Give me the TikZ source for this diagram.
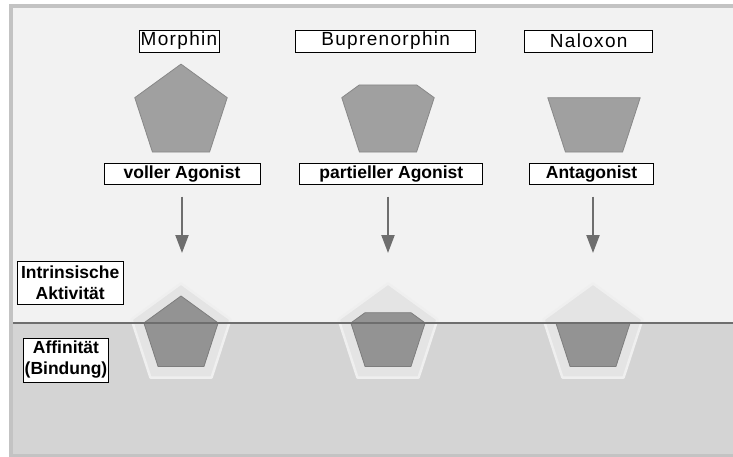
\documentclass[tikz,border=0pt]{standalone}
\usepackage{fontspec}
\setmainfont{Liberation Sans}
\newfontfamily\drugfont[LetterSpace=7]{Liberation Sans}
\usetikzlibrary{arrows.meta,positioning,calc}
\definecolor{bgtop}{HTML}{F2F2F2}
\definecolor{bgbot}{HTML}{D4D4D4}
\definecolor{framegray}{HTML}{C3C3C3}
\definecolor{piecegray}{HTML}{A0A0A0}
\definecolor{boundgray}{HTML}{939393}
\definecolor{pocketgray}{HTML}{E4E4E4}
\definecolor{linegray}{HTML}{6E6E6E}
\tikzset{
    drug/.style={
        draw,
        line width=0.8pt,
        fill=white,
        inner sep=0pt,
        minimum height=22pt,
        font=\drugfont\fontsize{19}{21}\selectfont
    },
    kind/.style={
        draw,
        line width=0.8pt,
        fill=white,
        inner sep=0pt,
        minimum height=21pt,
        font=\fontsize{17.5}{20}\selectfont\bfseries
    },
    side/.style={
        draw,
        line width=0.8pt,
        fill=white,
        inner sep=0pt,
        align=center,
        font=\fontsize{17.5}{21}\selectfont\bfseries
    },
    arrow/.style={
        -{Triangle[length=18pt,width=13pt]},
        line width=2.2pt,
        draw=linegray
    },
    piece/.style={fill=piecegray, draw=piecegray!85!black, line width=0.8pt, line join=round},
    bound/.style={fill=boundgray, draw=boundgray!85!black, line width=0.8pt, line join=round},
    pocket/.style={fill=pocketgray, draw=pocketgray!60!white, line width=2.5pt, line join=round}
}
% pentagon: style, centre x, centre y, radius, cut of the tip (0 = full)
\newcommand{\gon}[5]{%
  \coordinate (gt) at (#2,{#3-#4});
  \coordinate (gr) at ({#2+#4*sin(72)},{#3-#4*cos(72)});
  \coordinate (gl) at ({#2-#4*sin(72)},{#3-#4*cos(72)});
  \coordinate (gbr) at ({#2+#4*sin(36)},{#3+#4*cos(36)});
  \coordinate (gbl) at ({#2-#4*sin(36)},{#3+#4*cos(36)});
  \path[#1] ($(gt)!#5!(gl)$) -- ($(gt)!#5!(gr)$) -- (gr) -- (gbr) -- (gbl) -- (gl) -- cycle;
}

\begin{document}
\begin{tikzpicture}[x=1pt, y=-1pt]
\useasboundingbox (0,0) rectangle (733,457);

% frame and the two layers
\fill[framegray] (9,4) rectangle (733,457);
\fill[bgtop] (13,8) rectangle (733,323);
\fill[bgbot] (13,323) rectangle (733,454);

% receptor pockets with bound pieces
\gon{pocket}{181}{335.5}{52}{0}
\gon{pocket}{388}{335.5}{52}{0}
\gon{pocket}{593}{335.5}{52}{0}
\gon{bound}{181}{335}{39}{0}
\gon{bound}{388}{335}{39}{0.62}
\gon{bound}{593}{335}{39}{1}

\coordinate (mleft) at (13,323);
\coordinate (mright) at (733,323);
\draw[linegray, line width=2.5pt] (mleft) -- (mright);

% free pieces
\gon{piece}{181}{112.7}{48.6}{0}
\gon{piece}{388}{112.7}{48.6}{0.62}
\gon{piece}{594}{112.7}{48.6}{1}

\node[drug, minimum width=80pt] (morphin) at (179,41) {Morphin};
\node[drug, minimum width=180pt] (bupre) at (385.7,41) {Buprenorphin};
\node[drug, minimum width=128pt] (nalox) at (588.7,41) {Naloxon};

\node[kind, minimum width=156pt] (full) at (182,173.8) {voller Agonist};
\node[kind, minimum width=183pt] (partial) at (391.3,173.8) {partieller Agonist};
\node[kind, minimum width=124pt] (antag) at (591.6,173.8) {Antagonist};

\node[side, minimum width=106pt, minimum height=43pt] (activity) at (70.2,283) {Intrinsische\\Aktivität};
\node[side, minimum width=85pt, minimum height=44pt] (affinity) at (66,360) {Affinität\\(Bindung)};

\coordinate (fulltop) at (182,196.7);
\coordinate (fullend) at (182,253);
\coordinate (partialtop) at (388,196.7);
\coordinate (partialend) at (388,253);
\coordinate (antagtop) at (593,196.7);
\coordinate (antagend) at (593,253);

\draw[arrow] (fulltop) -- (fullend);
\draw[arrow] (partialtop) -- (partialend);
\draw[arrow] (antagtop) -- (antagend);

\end{tikzpicture}
\end{document}
